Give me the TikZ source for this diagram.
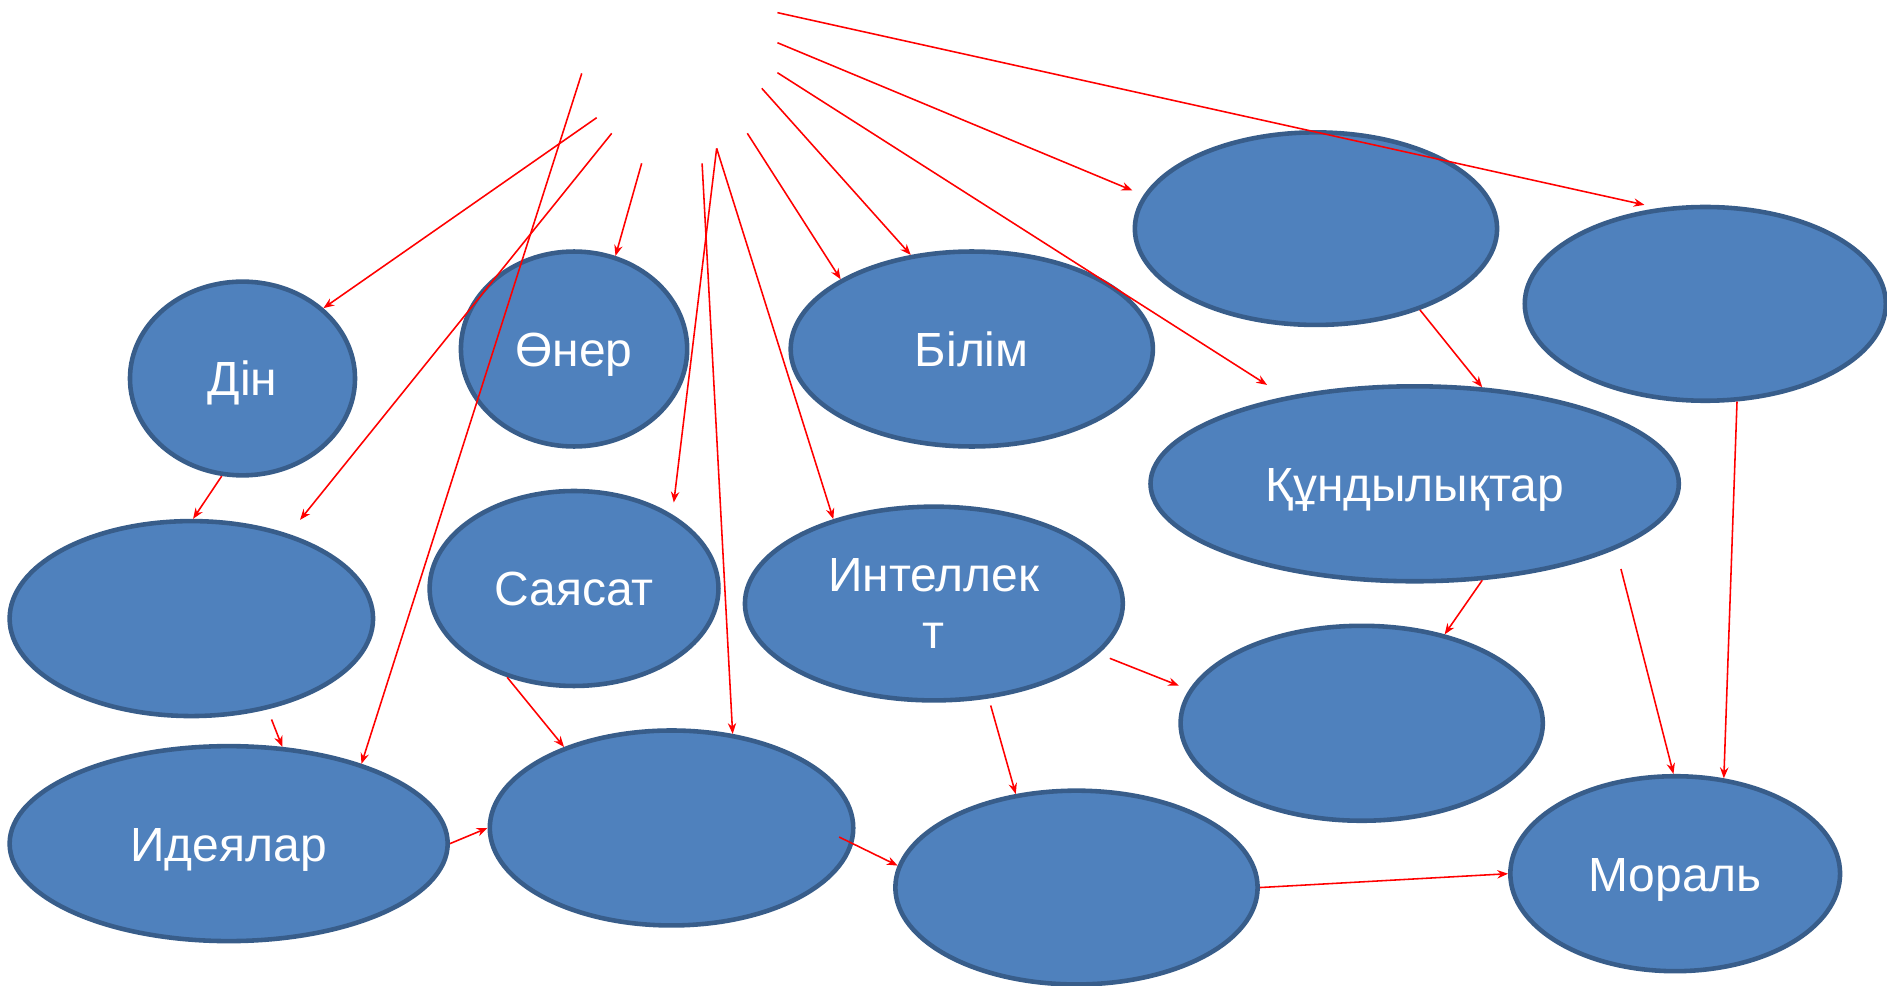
\documentclass[tikz,border=0pt]{standalone}
\usepackage{fontspec}
\setmainfont{Liberation Sans}
\usetikzlibrary{shapes.geometric,arrows.meta}
\definecolor{bubblefill}{HTML}{4F81BD}
\definecolor{bubbleline}{HTML}{385D8A}
\begin{document}
\begin{tikzpicture}[x=1bp,y=-1bp,
  bubble/.style={ellipse, draw=bubbleline, fill=bubblefill, line width=3.8bp,
    inner sep=0pt, text=white, font=\fontsize{40}{48}\selectfont, align=center},
  oneline/.style={text height=29bp, text depth=0pt},
  link/.style={draw=red, line width=1.3bp, -{Stealth[length=9bp,width=7bp,inset=3bp]}}]
\useasboundingbox (0,0) rectangle (1568,819.3);
% nodes
\node[bubble, oneline, minimum width=187bp, minimum height=161bp] (din) at (201.5,314.5) {Дін};
\node[bubble, oneline, minimum width=188bp, minimum height=162bp] (oner) at (477,290) {Өнер};
\node[bubble, oneline, minimum width=301bp, minimum height=162bp] (bilim) at (807.5,290) {Білім};
\node[bubble, minimum width=301bp, minimum height=160bp] (topmid) at (1093.5,190) {};
\node[bubble, minimum width=300bp, minimum height=161bp] (farright) at (1417,252.5) {};
\node[bubble, oneline, minimum width=439bp, minimum height=162bp] (kund) at (1175.5,402) {Құндылықтар};
\node[bubble, minimum width=302bp, minimum height=162bp] (leftmid) at (159,514) {};
\node[bubble, oneline, minimum width=240bp, minimum height=162bp] (sayasat) at (477,489) {Саясат};
\node[bubble, minimum width=314bp, minimum height=161bp] (intel) at (776,501.5) {Интеллек\\т};
\node[bubble, minimum width=301bp, minimum height=162bp] (rightmid) at (1131.5,601) {};
\node[bubble, oneline, minimum width=364bp, minimum height=162bp] (ideya) at (190,701) {Идеялар};
\node[bubble, minimum width=302bp, minimum height=162bp] (botcenter) at (558,688) {};
\node[bubble, minimum width=301bp, minimum height=161bp] (botright) at (894.5,737.5) {};
\node[bubble, oneline, minimum width=274bp, minimum height=162bp] (moral) at (1392,726) {Мораль};
% free starts of the arrows from the top
\coordinate (s1) at (646,10.5);
\coordinate (s2) at (646,35.5);
\coordinate (s3) at (646,60.4);
\coordinate (s4) at (633,73.4);
\coordinate (s5) at (621,110.8);
\coordinate (s6) at (595.5,123.3);
\coordinate (s7) at (583.4,135.7);
\coordinate (s8) at (533.2,135.7);
\coordinate (s9) at (508.3,110.8);
\coordinate (s10) at (495.8,97.8);
\coordinate (s11) at (483.4,61);
% arrows from the top
\draw[link, shorten >=12bp] (s1) -- (farright.116);
\draw[link, shorten >=10bp] (s2) -- (topmid.169);
\draw[link, shorten >=18bp] (s3) -- (kund.146);
\draw[link] (s4) -- (bilim.123);
\draw[link] (s5) -- (bilim.152);
\draw[link] (s6) -- (intel.140);
\draw[link, shorten >=10bp] (s6) -- (sayasat.37);
\draw[link] (s7) -- (botcenter.57);
\draw[link] (s8) -- (oner.66);
\draw[link, shorten >=15bp] (s9) -- (leftmid.41);
\draw[link] (s10) -- (din.41);
\draw[link] (s11) -- (ideya.31);
% arrows between nodes
\draw[link] (din.258) -- (leftmid.89);
\draw[link, shorten <=9bp] (leftmid.-50) -- (ideya.61);
\draw[link] (sayasat.-127) -- (botcenter.143);
\draw[link] (ideya.east) -- (botcenter.west);
\draw[link, shorten <=-13bp] (botcenter.-5) -- (botright.173);
\draw[link, shorten <=6bp] (intel.-60) -- (botright.123);
\draw[link, shorten <=10bp, shorten >=9bp] (intel.-17) -- (rightmid.169);
\draw[link] (kund.-55) -- (rightmid.47);
\draw[link] (topmid.-38) -- (kund.55);
\draw[link, shorten <=17bp] (kund.-18) -- (moral.91);
\draw[link] (farright.-72) -- (moral.63);
\draw[link] (botright.east) -- (moral.west);
\end{tikzpicture}
\end{document}
